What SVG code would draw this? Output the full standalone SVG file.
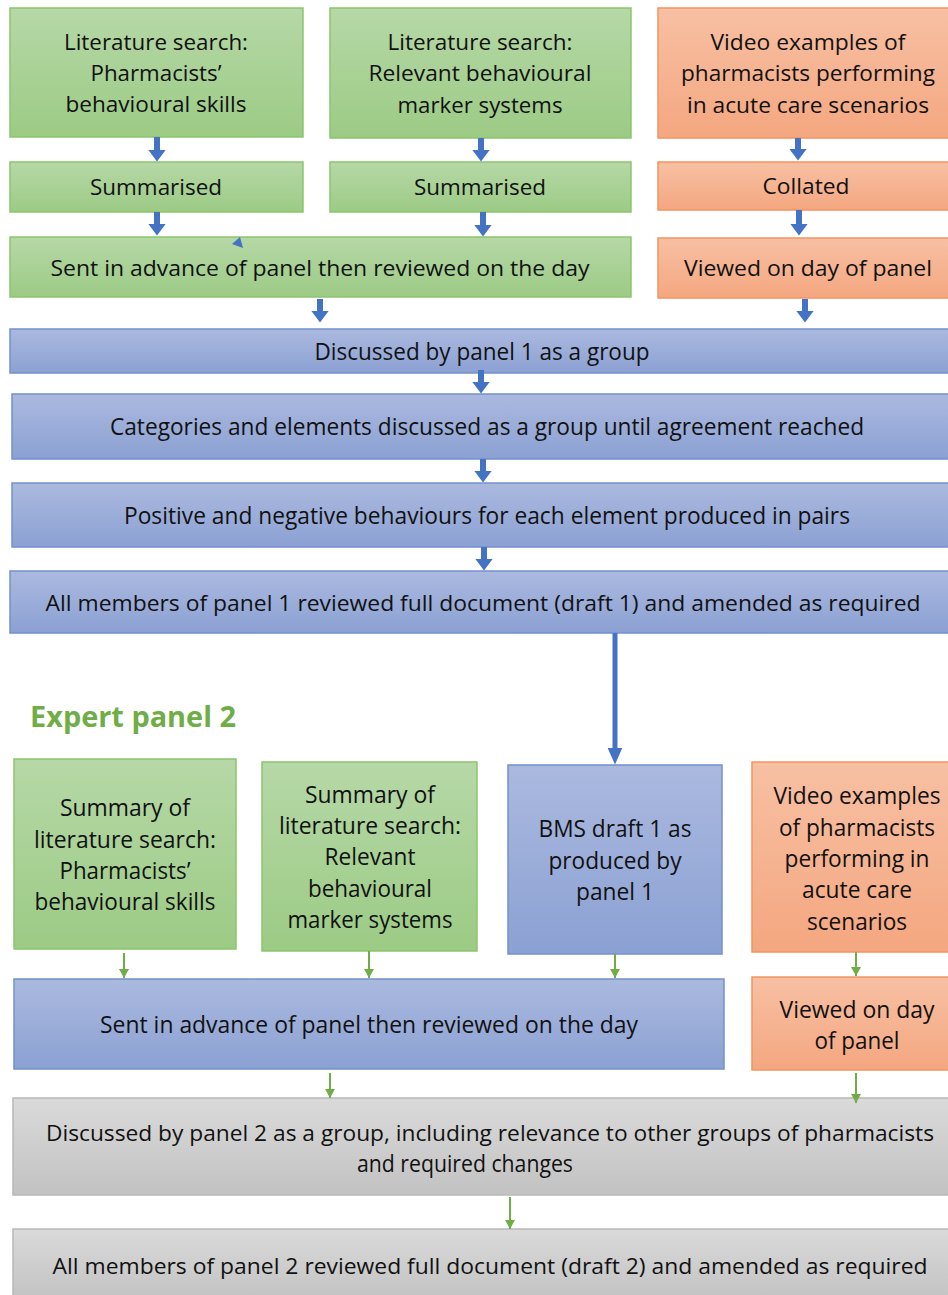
<svg xmlns="http://www.w3.org/2000/svg" width="948" height="1295" viewBox="0 0 948 1295">
<defs>
<linearGradient id="gG" x1="0" y1="0" x2="0" y2="1"><stop offset="0" stop-color="#b6d8a7"/><stop offset="1" stop-color="#9ccb85"/></linearGradient>
<linearGradient id="gO" x1="0" y1="0" x2="0" y2="1"><stop offset="0" stop-color="#f7c0a3"/><stop offset="1" stop-color="#f4a780"/></linearGradient>
<linearGradient id="gB" x1="0" y1="0" x2="0" y2="1"><stop offset="0" stop-color="#abb9df"/><stop offset="1" stop-color="#8ba1d3"/></linearGradient>
<linearGradient id="gY" x1="0" y1="0" x2="0" y2="1"><stop offset="0" stop-color="#dadada"/><stop offset="1" stop-color="#c2c2c2"/></linearGradient>
<marker id="bh" markerUnits="userSpaceOnUse" markerWidth="12" markerHeight="18" refX="0.5" refY="9" orient="auto" viewBox="0 0 12 18">
<path d="M0,0 L12,9 L0,18 Z" fill="#4472c4"/></marker>
<marker id="bh2" markerUnits="userSpaceOnUse" markerWidth="17" markerHeight="15" refX="0.5" refY="7.5" orient="auto" viewBox="0 0 17 15">
<path d="M0,0 L17,7.5 L0,15 Z" fill="#4472c4"/></marker>
<marker id="gh" markerUnits="userSpaceOnUse" markerWidth="9" markerHeight="10" refX="9" refY="5" orient="auto" viewBox="0 0 9 10">
<path d="M0,0 L9,5 L0,10 Z" fill="#70ad47"/></marker>
</defs>
<style>
.g{fill:url(#gG);stroke:#8cc56c;stroke-width:1.5}
.o{fill:url(#gO);stroke:#f29460;stroke-width:1.5}
.b{fill:url(#gB);stroke:#7391cc;stroke-width:1.5}
.y{fill:url(#gY);stroke:#b8b8b8;stroke-width:1.5}
text{font-family:"Open Sans","Liberation Sans",sans-serif;fill:#111;text-anchor:middle}
.t{font-size:22.5px}
.c{font-size:23.5px}
.w{font-size:21.5px}
.ba{stroke:#4472c4;stroke-width:6;marker-end:url(#bh)}
.ga{stroke:#70ad47;stroke-width:2;marker-end:url(#gh)}
</style>

<g id="n1"><rect class="g" x="10" y="8" width="293" height="129"/>
<text class="t" x="156" y="50" textLength="184" lengthAdjust="spacingAndGlyphs">Literature search:</text>
<text class="t" x="156" y="81" textLength="131" lengthAdjust="spacingAndGlyphs">Pharmacists’</text>
<text class="t" x="156" y="112" textLength="181" lengthAdjust="spacingAndGlyphs">behavioural skills</text></g>

<g id="n2"><rect class="g" x="330" y="8" width="301" height="130"/>
<text class="t" x="480" y="50" textLength="185" lengthAdjust="spacingAndGlyphs">Literature search:</text>
<text class="t" x="480" y="81" textLength="223" lengthAdjust="spacingAndGlyphs">Relevant behavioural</text>
<text class="t" x="480" y="113" textLength="165" lengthAdjust="spacingAndGlyphs">marker systems</text></g>

<g id="n3"><rect class="o" x="658" y="8" width="295" height="130"/>
<text class="t" x="808" y="50" textLength="195" lengthAdjust="spacingAndGlyphs">Video examples of</text>
<text class="t" x="808" y="81" textLength="254" lengthAdjust="spacingAndGlyphs">pharmacists performing</text>
<text class="t" x="808" y="113" textLength="242" lengthAdjust="spacingAndGlyphs">in acute care scenarios</text></g>

<g id="n4"><rect class="g" x="10" y="162" width="293" height="50"/>
<text class="t" x="156" y="195" textLength="132" lengthAdjust="spacingAndGlyphs">Summarised</text></g>
<g id="n5"><rect class="g" x="330" y="162" width="301" height="50"/>
<text class="t" x="480" y="195" textLength="132" lengthAdjust="spacingAndGlyphs">Summarised</text></g>
<g id="n6"><rect class="o" x="658" y="162" width="295" height="48"/>
<text class="t" x="806" y="194" textLength="87" lengthAdjust="spacingAndGlyphs">Collated</text></g>

<g id="n7"><rect class="g" x="10" y="237" width="621" height="60"/>
<text class="t" x="320" y="276" textLength="539" lengthAdjust="spacingAndGlyphs">Sent in advance of panel then reviewed on the day</text>
<polygon points="232,244 243,248 240,237" fill="#4472c4"/></g>
<g id="n8"><rect class="o" x="658" y="238" width="295" height="60"/>
<text class="t" x="808" y="276" textLength="248" lengthAdjust="spacingAndGlyphs">Viewed on day of panel</text></g>

<g id="n9"><rect class="b" x="10" y="329" width="943" height="44"/>
<text class="c" x="482" y="360" textLength="335" lengthAdjust="spacingAndGlyphs">Discussed by panel 1 as a group</text></g>
<g id="n10"><rect class="b" x="12" y="394" width="941" height="65"/>
<text class="c" x="487" y="435" textLength="754" lengthAdjust="spacingAndGlyphs">Categories and elements discussed as a group until agreement reached</text></g>
<g id="n11"><rect class="b" x="12" y="483" width="941" height="64"/>
<text class="c" x="487" y="524" textLength="726" lengthAdjust="spacingAndGlyphs">Positive and negative behaviours for each element produced in pairs</text></g>
<g id="n12"><rect class="b" x="10" y="571" width="943" height="62"/>
<text class="w" x="483" y="611" textLength="875" lengthAdjust="spacingAndGlyphs">All members of panel 1 reviewed full document (draft 1) and amended as required</text></g>

<g id="title"><text x="30" y="727" style="font-size:28px;font-weight:bold;fill:#70ad47;text-anchor:start" textLength="206" lengthAdjust="spacingAndGlyphs">Expert panel 2</text></g>

<g id="n13"><rect class="g" x="14" y="759" width="222" height="190"/>
<text class="c" x="125" y="816" textLength="130" lengthAdjust="spacingAndGlyphs">Summary of</text>
<text class="c" x="125" y="848" textLength="182" lengthAdjust="spacingAndGlyphs">literature search:</text>
<text class="c" x="125" y="879" textLength="131" lengthAdjust="spacingAndGlyphs">Pharmacists’</text>
<text class="c" x="125" y="910" textLength="181" lengthAdjust="spacingAndGlyphs">behavioural skills</text></g>

<g id="n14"><rect class="g" x="262" y="762" width="215" height="189"/>
<text class="c" x="370" y="803" textLength="130" lengthAdjust="spacingAndGlyphs">Summary of</text>
<text class="c" x="370" y="834" textLength="182" lengthAdjust="spacingAndGlyphs">literature search:</text>
<text class="c" x="370" y="865" textLength="91" lengthAdjust="spacingAndGlyphs">Relevant</text>
<text class="c" x="370" y="897" textLength="124" lengthAdjust="spacingAndGlyphs">behavioural</text>
<text class="c" x="370" y="928" textLength="165" lengthAdjust="spacingAndGlyphs">marker systems</text></g>

<g id="n15"><rect class="b" x="508" y="765" width="214" height="189"/>
<text class="c" x="615" y="837" textLength="153" lengthAdjust="spacingAndGlyphs">BMS draft 1 as</text>
<text class="c" x="615" y="869" textLength="133" lengthAdjust="spacingAndGlyphs">produced by</text>
<text class="c" x="615" y="900" textLength="78" lengthAdjust="spacingAndGlyphs">panel 1</text></g>

<g id="n16"><rect class="o" x="752" y="762" width="201" height="190"/>
<text class="c" x="857" y="804" textLength="167" lengthAdjust="spacingAndGlyphs">Video examples</text>
<text class="c" x="857" y="836" textLength="156" lengthAdjust="spacingAndGlyphs">of pharmacists</text>
<text class="c" x="857" y="867" textLength="145" lengthAdjust="spacingAndGlyphs">performing in</text>
<text class="c" x="857" y="898" textLength="110" lengthAdjust="spacingAndGlyphs">acute care</text>
<text class="c" x="857" y="930" textLength="100" lengthAdjust="spacingAndGlyphs">scenarios</text></g>

<g id="n17"><rect class="b" x="14" y="979" width="710" height="90"/>
<text class="c" x="369" y="1033" textLength="538" lengthAdjust="spacingAndGlyphs">Sent in advance of panel then reviewed on the day</text></g>

<g id="n18"><rect class="o" x="752" y="977" width="201" height="93"/>
<text class="c" x="857" y="1018" textLength="155" lengthAdjust="spacingAndGlyphs">Viewed on day</text>
<text class="c" x="857" y="1049" textLength="85" lengthAdjust="spacingAndGlyphs">of panel</text></g>

<g id="n19"><rect class="y" x="13" y="1098" width="940" height="97"/>
<text class="w" x="490" y="1141" textLength="888" lengthAdjust="spacingAndGlyphs">Discussed by panel 2 as a group, including relevance to other groups of pharmacists</text>
<text class="c" x="465" y="1172" textLength="216" lengthAdjust="spacingAndGlyphs">and required changes</text></g>

<g id="n20"><rect class="y" x="13" y="1229" width="940" height="72"/>
<text class="w" x="490" y="1274" textLength="875" lengthAdjust="spacingAndGlyphs">All members of panel 2 reviewed full document (draft 2) and amended as required</text></g>

<g id="connectors">
<line class="ba" x1="157" y1="137" x2="157" y2="150"/>
<line class="ba" x1="157" y1="212" x2="157" y2="224"/>
<line class="ba" x1="481" y1="138" x2="481" y2="150"/>
<line class="ba" x1="483" y1="212" x2="483" y2="225"/>
<line class="ba" x1="798" y1="138" x2="798" y2="149"/>
<line class="ba" x1="799" y1="210" x2="799" y2="224"/>
<line class="ba" x1="320" y1="299" x2="320" y2="311"/>
<line class="ba" x1="805" y1="299" x2="805" y2="311"/>
<line class="ba" x1="481" y1="370" x2="481" y2="382"/>
<line class="ba" x1="483" y1="459" x2="483" y2="471"/>
<line class="ba" x1="484" y1="547" x2="484" y2="559"/>
<line x1="615" y1="633" x2="615" y2="748" stroke="#4472c4" stroke-width="5" marker-end="url(#bh2)"/>
<line class="ga" x1="124" y1="953" x2="124" y2="978"/>
<line class="ga" x1="369" y1="951" x2="369" y2="978"/>
<line class="ga" x1="615" y1="954" x2="615" y2="978"/>
<line class="ga" x1="856" y1="952" x2="856" y2="976"/>
<line class="ga" x1="330" y1="1073" x2="330" y2="1098"/>
<line class="ga" x1="856" y1="1073" x2="856" y2="1103"/>
<line class="ga" x1="510" y1="1197" x2="510" y2="1229"/>
</g>
</svg>
